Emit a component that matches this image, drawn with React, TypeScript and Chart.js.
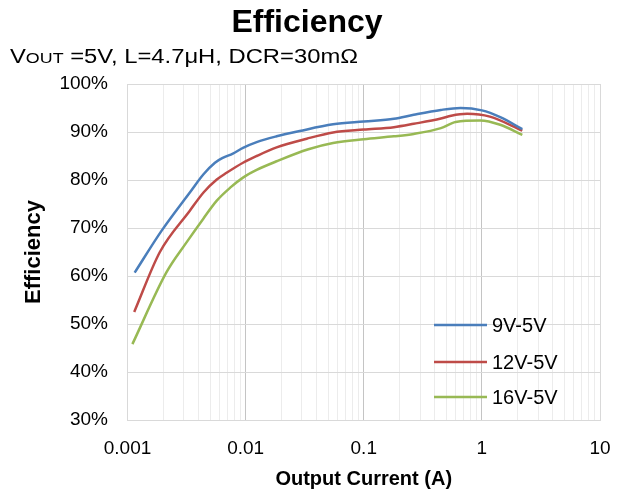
import React, { useEffect, useRef } from "react";
import { Chart, registerables } from "chart.js";

Chart.register(...registerables);

const seriesLabels = ["9V-5V", "12V-5V", "16V-5V"];
const seriesColors = ["#4A7EBB", "#BE4B48", "#98B954"];

const current9V = [0.00115, 0.00194, 0.00337, 0.0044, 0.0055, 0.0064, 0.0078, 0.0095, 0.0124, 0.0183, 0.0287, 0.055, 0.1, 0.18, 0.265, 0.45, 0.66, 1.0, 1.43, 2.2];
const eff9V = [60.7, 69.4, 77.4, 81.2, 83.6, 84.6, 85.5, 86.7, 87.9, 89.1, 90.2, 91.6, 92.2, 92.75, 93.6, 94.6, 95.0, 94.5, 93.1, 90.6];

const current12V = [0.00114, 0.00188, 0.00337, 0.0044, 0.0057, 0.0069, 0.0095, 0.0124, 0.0183, 0.0329, 0.055, 0.1, 0.18, 0.265, 0.45, 0.55, 0.75, 1.17, 2.2];
const eff12V = [52.5, 65.0, 73.6, 77.4, 80.1, 81.5, 83.6, 85.0, 86.8, 88.6, 89.9, 90.5, 91.0, 91.7, 92.8, 93.4, 93.8, 93.2, 90.3];

const current16V = [0.0011, 0.00214, 0.00316, 0.0044, 0.0057, 0.0074, 0.0095, 0.0124, 0.0183, 0.034, 0.055, 0.1, 0.18, 0.265, 0.45, 0.6, 0.97, 1.43, 2.2];
const eff16V = [45.8, 60.8, 67.0, 72.0, 75.7, 78.4, 80.5, 82.1, 83.9, 86.4, 87.7, 88.5, 89.1, 89.6, 90.8, 92.1, 92.4, 91.5, 89.4];

const xMin = 0.001;
const xMax = 10;
const yMin = 30;
const yMax = 100;
const yStep = 10;

const chartTitle = "Efficiency";
const subtitleMain = "V";
const subtitleSub = "OUT";
const subtitleRest = " =5V, L=4.7\u03bcH, DCR=30m\u03a9";
const xTitle = "Output Current (A)";
const yTitle = "Efficiency";

const FONT = "'Liberation Sans', Arial, sans-serif";

const isPow10 = (v: number) => {
  const l = Math.log10(v);
  return Math.abs(l - Math.round(l)) < 1e-9;
};

const isIntSignificand = (v: number) => {
  const e = Math.floor(Math.log10(v) + 1e-9);
  const s = v / Math.pow(10, e);
  return Math.abs(s - Math.round(s)) < 1e-6;
};

const titlePlugin = {
  id: "customTitle",
  afterDraw(chart: any) {
    const ctx = chart.ctx;
    ctx.save();
    ctx.fillStyle = "#000";
    ctx.textBaseline = "alphabetic";
    ctx.textAlign = "center";
    ctx.font = `bold 32px ${FONT}`;
    ctx.fillText(chartTitle, 307, 32);

    ctx.textAlign = "left";
    const bigFont = `20px ${FONT}`;
    const smallFont = `15px ${FONT}`;
    ctx.font = bigFont;
    const w1 = ctx.measureText(subtitleMain).width;
    const w3 = ctx.measureText(subtitleRest).width;
    ctx.font = smallFont;
    const w2 = ctx.measureText(subtitleSub).width;
    const total = w1 + w2 + w3;
    const target = 348;
    const sx = target / total;
    ctx.translate(10, 63);
    ctx.scale(sx, 1);
    ctx.font = bigFont;
    ctx.fillText(subtitleMain, 0, 0);
    ctx.font = smallFont;
    ctx.fillText(subtitleSub, w1, 0);
    ctx.font = bigFont;
    ctx.fillText(subtitleRest, w1 + w2, 0);
    ctx.restore();
  },
};

const legendPlugin = {
  id: "customLegend",
  afterDraw(chart: any) {
    const ctx = chart.ctx;
    const area = chart.chartArea;
    const x0 = area.right - 166;
    const lineLen = 53;
    const rows = [area.top + 241, area.top + 278, area.top + 313];
    ctx.save();
    ctx.font = `20px ${FONT}`;
    ctx.textBaseline = "middle";
    ctx.textAlign = "left";
    chart.data.datasets.forEach((ds: any, i: number) => {
      const y = rows[i];
      ctx.strokeStyle = ds.borderColor;
      ctx.lineWidth = 2.5;
      ctx.beginPath();
      ctx.moveTo(x0, y);
      ctx.lineTo(x0 + lineLen, y);
      ctx.stroke();
      ctx.fillStyle = "#000";
      ctx.fillText(ds.label, x0 + lineLen + 5, y + 1);
    });
    ctx.restore();
  },
};

const toPoints = (xs: number[], ys: number[]) => xs.map((x, i) => ({ x, y: ys[i] }));

export default function App() {
  const canvasRef = useRef<HTMLCanvasElement | null>(null);

  useEffect(() => {
    document.body.style.margin = "0";
    const canvas = canvasRef.current;
    if (!canvas) return;
    const seriesX = [current9V, current12V, current16V];
    const seriesY = [eff9V, eff12V, eff16V];
    const chart = new Chart(canvas, {
      type: "line",
      data: {
        datasets: seriesLabels.map((label, i) => ({
          label,
          data: toPoints(seriesX[i], seriesY[i]),
          borderColor: seriesColors[i],
          backgroundColor: seriesColors[i],
          borderWidth: 2.5,
          pointRadius: 0,
          fill: false,
          cubicInterpolationMode: "monotone" as const,
        })),
      },
      options: {
        responsive: false,
        animation: false,
        events: [],
        layout: { padding: { top: 84, right: 23, left: 0, bottom: 0 } },
        plugins: {
          legend: { display: false },
          tooltip: { enabled: false },
          title: { display: false },
        },
        scales: {
          x: {
            type: "logarithmic",
            min: xMin,
            max: xMax,
            afterBuildTicks: (scale: any) => {
              scale.ticks = scale.ticks.filter((t: any) => isIntSignificand(t.value));
            },
            afterFit: (scale: any) => {
              scale.height = 76;
              scale.paddingLeft = 0;
              scale.paddingRight = 0;
            },
            ticks: {
              autoSkip: false,
              maxRotation: 0,
              minRotation: 0,
              padding: 17,
              color: "#000",
              font: { family: FONT, size: 19 },
              callback: (v: any) => (isPow10(Number(v)) ? String(Number(v)) : ""),
            },
            grid: {
              drawTicks: false,
              color: (c: any) => {
                const v = c.tick ? c.tick.value : 0;
                if (!isPow10(v)) return "#ececec";
                if (Math.abs(v - xMin) < 1e-12 || Math.abs(v - xMax) < 1e-9) return "#d9d9d9";
                return "#c4c4c4";
              },
              lineWidth: 1,
            },
            border: { display: true, color: "#d9d9d9" },
            title: {
              display: true,
              text: xTitle,
              color: "#000",
              font: { family: FONT, size: 20, weight: "bold" },
              padding: { top: 0, bottom: 5 },
            },
          },
          y: {
            type: "linear",
            min: yMin,
            max: yMax,
            afterFit: (scale: any) => {
              scale.width = 127.5;
            },
            ticks: {
              stepSize: yStep,
              padding: 19.5,
              color: "#000",
              font: { family: FONT, size: 19 },
              callback: (v: any) => `${v}%`,
            },
            grid: {
              drawTicks: false,
              color: "#d9d9d9",
              lineWidth: 1,
            },
            border: { display: true, color: "#d9d9d9" },
            title: {
              display: true,
              text: yTitle,
              color: "#000",
              font: { family: FONT, size: 22, weight: "bold" },
              padding: { top: 21, bottom: 0 },
            },
          },
        },
      },
      plugins: [titlePlugin, legendPlugin],
    });
    return () => chart.destroy();
  }, []);

  return (
    <div style={{ position: "absolute", left: 0, top: 0, width: 623, height: 496, background: "#fff" }}>
      <canvas ref={canvasRef} width={623} height={496} />
    </div>
  );
}
